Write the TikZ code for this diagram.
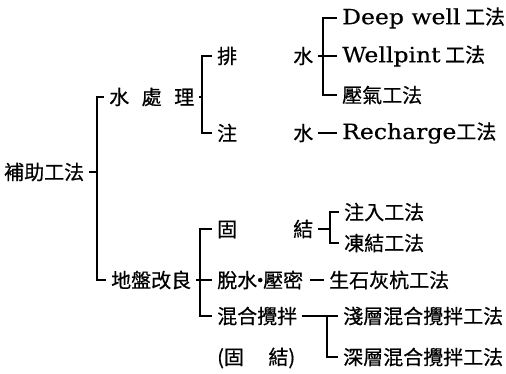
\documentclass[tikz,border=0pt]{standalone}
\usepackage{fontspec}
\setmainfont{Noto Sans CJK TC}[FakeBold=0.6]
\newfontfamily\latinSerif{DejaVu Serif}[FakeStretch=1.12, FakeBold=0.4]
\usepackage{tikz}
\usetikzlibrary{positioning,calc}
\newcommand{\spreadPair}[3]{\makebox[#1][s]{#2\hfill #3}}
\newcommand{\latinText}[1]{{\latinSerif\fontsize{21}{24}\selectfont #1}}
\tikzset{%
  termNode/.style={%
    anchor=west,
    inner xsep=5pt,
    inner ysep=0pt,
    font=\fontsize{20}{22}\selectfont
  },
  bracketLine/.style={%
    line width=1.6pt,
    color=black
  }
}

\begin{document}
\begin{tikzpicture}[x=1pt, y=-1pt]
  \useasboundingbox (0,0) rectangle (506,373);

  % first level
  \node[termNode] (root) at (-1,172) {補助工法};
  \node[termNode] (waterTreat) at (104,97) {\makebox[85pt][s]{水\hfill 處\hfill 理}};
  \node[termNode] (groundImp) at (106,280) {地盤改良};

  % water treatment branch
  \node[termNode] (drainWater) at (212,56) {\spreadPair{96pt}{排}{水}};
  \node[termNode] (injectWater) at (212,133) {\spreadPair{96pt}{注}{水}};
  \node[termNode] (deepWell) at (337,18) {\latinText{Deep well} 工法};
  \node[termNode] (wellPoint) at (337,56) {\latinText{Wellpint} 工法};
  \node[termNode] (airPress) at (337,95) {壓氣工法};
  \node[termNode] (recharge) at (337,133) {\latinText{Recharge}工法};

  % ground improvement branch
  \node[termNode] (solidify) at (212,229) {\spreadPair{96pt}{固}{結}};
  \node[termNode] (dewater) at (212,280) {脫水\makebox[6pt]{・}壓密};
  \node[termNode] (mixStir) at (212,316) {混合攪拌};
  \node[termNode] (mixNote) at (212,358) {\spreadPair{78pt}{(固}{結)}};
  \node[termNode] (grouting) at (339,212) {注入工法};
  \node[termNode] (freezing) at (339,243) {凍結工法};
  \node[termNode] (limePile) at (324,280) {生石灰杭工法};
  \node[termNode] (shallowMix) at (338,316) {淺層混合攪拌工法};
  \node[termNode] (deepMix) at (338,357) {深層混合攪拌工法};

  % bracket joints
  \coordinate (jRoot) at (97,172);
  \coordinate (jWater) at (202,97);
  \coordinate (jDrain) at (323,56);
  \coordinate (jGround) at (200,280);
  \coordinate (jSolid) at (330,229);
  \coordinate (jMix) at (327,316);

  % brackets
  \draw[bracketLine] (root.east) -- (jRoot);
  \draw[bracketLine] (waterTreat.west) -| (jRoot) |- (groundImp.west);
  \draw[bracketLine] (waterTreat.east) -- (jWater);
  \draw[bracketLine] (drainWater.west) -| (jWater) |- (injectWater.west);
  \draw[bracketLine] (drainWater.east) -- (wellPoint.west);
  \draw[bracketLine] (deepWell.west) -| (jDrain) |- (airPress.west);
  \draw[bracketLine] (injectWater.east) -- (recharge.west);
  \draw[bracketLine] (groundImp.east) -- (dewater.west);
  \draw[bracketLine] (solidify.west) -| (jGround) |- (mixStir.west);
  \draw[bracketLine] (solidify.east) -- (jSolid);
  \draw[bracketLine] (grouting.west) -| (jSolid) |- (freezing.west);
  \draw[bracketLine, shorten <=2pt] (dewater.east) -- (limePile.west);
  \draw[bracketLine] (mixStir.east) -- (shallowMix.west);
  \draw[bracketLine] (jMix) |- (deepMix.west);
\end{tikzpicture}
\end{document}
